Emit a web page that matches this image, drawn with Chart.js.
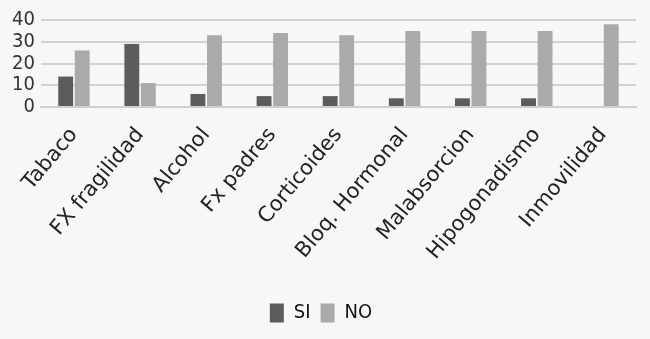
<!DOCTYPE html>
<html><head><meta charset="utf-8">
<script src="https://cdn.jsdelivr.net/npm/chart.js@4/dist/chart.umd.min.js"></script>
<style>html,body{margin:0;padding:0;background:#f7f7f7;}#wrap{width:650px;height:339px;}</style>
</head><body><div id="wrap"><canvas id="c"></canvas></div>
<script>
const categories = ["Tabaco","FX fragilidad","Alcohol","Fx padres","Corticoides","Bloq. Hormonal","Malabsorcion","Hipogonadismo","Inmovilidad"];
const siValues = [14, 29, 6, 5, 5, 4, 4, 4, 0];
const noValues = [26, 11, 33, 34, 33, 35, 35, 35, 38];
const yTicks = [0, 10, 20, 30, 40];

new Chart(document.getElementById('c'), {
  type: 'bar',
  data: {
    labels: categories,
    datasets: [
      {label: 'SI', data: siValues, backgroundColor: '#5c5c5c'},
      {label: 'NO', data: noValues, backgroundColor: '#aaaaaa'}
    ]
  },
  options: {
    responsive: true, maintainAspectRatio: false, animation: false,
    layout: {padding: {top: 20, right: 14, left: 6, bottom: 6}},
    datasets: {bar: {categoryPercentage: 0.5, barPercentage: 0.9}},
    scales: {
      x: {
        grid: {display: false},
        border: {color: '#cfcfcf', width: 2},
        afterFit: s => { s.height = 186; },
        ticks: {color: '#222', font: {family: 'DejaVu Sans', size: 21}, minRotation: 50, maxRotation: 50, padding: 8}
      },
      y: {
        min: 0, max: 40,
        afterBuildTicks: s => { s.ticks = yTicks.map(v => ({value: v})); },
        grid: {color: '#d2d2d2', lineWidth: 2, drawTicks: false},
        border: {display: false},
        ticks: {color: '#333', font: {family: 'DejaVu Sans Condensed', size: 20}, padding: 6, autoSkip: false}
      }
    },
    plugins: {
      legend: {position: 'bottom', labels: {color: '#111', font: {family: 'DejaVu Sans Condensed', size: 20}, boxWidth: 14, boxHeight: 19, padding: 10}},
      tooltip: {enabled: false}
    }
  }
});
</script></body></html>
